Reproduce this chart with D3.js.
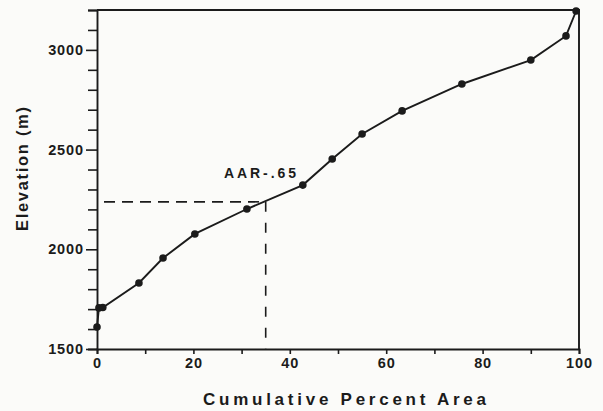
<!DOCTYPE html>
<html>
<head>
<meta charset="utf-8">
<script src="https://cdn.jsdelivr.net/npm/d3@7"></script>
<style>
  html, body { margin: 0; padding: 0; background: #fbfbf9; }
  svg { display: block; }
  text { font-family: "Liberation Sans", Arial, Helvetica, sans-serif; fill: #1b1b1b; }
</style>
</head>
<body>
<svg id="chart" width="603" height="411"></svg>
<script>
// Hypsometry: cumulative percent of glacier area below each elevation
const areaPct   = [0, 0.4, 1.2, 8.7, 13.7, 20.3, 31.1, 42.7, 48.8, 55.0, 63.3, 75.7, 90.0, 97.3, 99.4];
const elevation = [1610, 1706, 1708, 1831, 1956, 2077, 2202, 2322, 2453, 2578, 2694, 2829, 2949, 3070, 3195];

// Equilibrium line: accumulation-area ratio 0.65 → 35 % of area lies below the ELA
const aarLabel = "AAR-.65";
const elaArea = 35;
const elaElevation = 2238;

const xTicks = [0, 10, 20, 30, 40, 50, 60, 70, 80, 90, 100];
const xTickLabels = [0, 20, 40, 60, 80, 100];
const yTicks = d3.range(1500, 3201, 100);
const yTickLabels = [1500, 2000, 2500, 3000];

const xTitle = "Cumulative Percent Area";
const yTitle = "Elevation (m)";

const ink = "#1b1b1b";
const svg = d3.select("#chart");

const x = d3.scaleLinear().domain([0, 100]).range([97, 579]);
const y = d3.scaleLinear().domain([1500, 3200]).range([349, 10]);

// frame: top and right edges
svg.append("path")
  .attr("d", `M${x(0)},${y(3200)}H${x(100)}V${y(1500)}`)
  .attr("fill", "none").attr("stroke", ink).attr("stroke-width", 1.9);

// x axis
const xAxis = svg.append("g")
  .attr("transform", `translate(0,${y(1500)})`)
  .call(d3.axisBottom(x).tickValues(xTicks).tickSize(5).tickPadding(4)
    .tickFormat(d => xTickLabels.includes(d) ? d : ""));

// y axis with minor ticks every 100 m
const yAxis = svg.append("g")
  .attr("transform", `translate(${x(0)},0)`)
  .call(d3.axisLeft(y).tickValues(yTicks).tickSize(9).tickPadding(4)
    .tickFormat(d => yTickLabels.includes(d) ? d : ""));
yAxis.selectAll(".tick line")
  .attr("x2", d => yTickLabels.includes(d) ? -11 : -9);

[xAxis, yAxis].forEach(g => {
  g.select(".domain").attr("stroke", ink).attr("stroke-width", 1.9);
  g.selectAll(".tick line").attr("stroke", ink).attr("stroke-width", 1.6);
  g.selectAll(".tick text")
    .attr("fill", ink)
    .style("font-size", "14.5px")
    .style("font-weight", "bold")
    .style("letter-spacing", "0.9px");
});

// dashed guide lines to the equilibrium line
svg.append("line")
  .attr("x1", x(0)).attr("x2", x(elaArea))
  .attr("y1", y(elaElevation)).attr("y2", y(elaElevation))
  .attr("stroke", ink).attr("stroke-width", 1.6)
  .attr("stroke-dasharray", "11,7").attr("stroke-dashoffset", 11);
svg.append("line")
  .attr("x1", x(elaArea)).attr("x2", x(elaArea))
  .attr("y1", y(elaElevation)).attr("y2", y(1500))
  .attr("stroke", ink).attr("stroke-width", 1.6)
  .attr("stroke-dasharray", "10,11");

// hypsometric curve
const pts = areaPct.map((a, i) => [a, elevation[i]]);
svg.append("path")
  .datum(pts)
  .attr("d", d3.line().x(d => x(d[0])).y(d => y(d[1])))
  .attr("fill", "none").attr("stroke", ink).attr("stroke-width", 1.9);

svg.append("g").selectAll("circle")
  .data(pts).join("circle")
  .attr("cx", d => x(d[0])).attr("cy", d => y(d[1]))
  .attr("r", 3.8).attr("fill", ink);

// AAR annotation
svg.append("text")
  .attr("x", 224).attr("y", 178)
  .attr("textLength", 72).attr("lengthAdjust", "spacing")
  .style("font-size", "14px").style("font-weight", "bold")
  .text(aarLabel);

// axis titles
svg.append("text")
  .attr("x", 203).attr("y", 405)
  .attr("textLength", 283).attr("lengthAdjust", "spacing")
  .style("font-size", "17px").style("font-weight", "bold")
  .text(xTitle);

svg.append("text")
  .attr("transform", "translate(28,231) rotate(-90)")
  .attr("x", 0).attr("y", 0)
  .attr("textLength", 124).attr("lengthAdjust", "spacing")
  .style("font-size", "16.5px").style("font-weight", "bold")
  .text(yTitle);
</script>
</body>
</html>
